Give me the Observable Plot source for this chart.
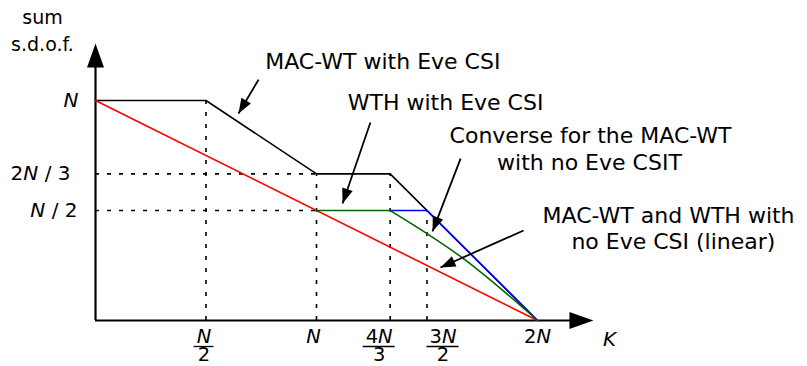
<!DOCTYPE html>
<html>
<head>
<meta charset="utf-8">
<script src="https://cdn.jsdelivr.net/npm/d3@7"></script>
<script src="https://cdn.jsdelivr.net/npm/@observablehq/plot@0.6"></script>
<style>
  html, body { margin: 0; padding: 0; background: #fff; }
  #chart svg { display: block; }
</style>
</head>
<body>
<div id="chart"></div>
<script>
// ---- data: K and sum s.d.o.f., both in units of N ----
const macWtEveK = [0, 0.5, 1, 4/3, 2];          // MAC-WT with Eve CSI (black)
const macWtEveS = [1, 1, 2/3, 2/3, 0];
const linearK = [0, 2];                          // linear, no Eve CSI (red)
const linearS = [1, 0];
const wthEveK = [1, 4/3];                        // WTH with Eve CSI, flat part (green)
const wthEveS = [0.5, 0.5];
const wthCurveK = [4/3, 1.5, 5/3, 11/6, 2];      // WTH with Eve CSI, curved part (green)
const wthCurveS = [0.5, 0.395, 0.28, 0.145, 0];
const converseK = [4/3, 1.5, 2];                 // converse, no Eve CSIT (blue)
const converseS = [0.5, 0.5, 0];

const xTicks = [0.5, 1, 4/3, 1.5, 2];
const xTickNum = ["N", "N", "4N", "3N", "2N"];
const xTickDen = ["2", "", "3", "2", ""];
const yTicks = [1, 2/3, 0.5];
const yTickLabels = ["N", "2N / 3", "N / 2"];

const noteTexts = ["MAC-WT with Eve CSI", "WTH with Eve CSI", "Converse for the MAC-WT",
                   "with no Eve CSIT", "MAC-WT and WTH with", "no Eve CSI (linear)"];

// ---- layout ----
const W = 807, H = 366;
const X_RANGE = [95, 537], Y_RANGE = [320, 100];
const PX_K = (X_RANGE[1] - X_RANGE[0]) / 2;
const PX_S = (Y_RANGE[0] - Y_RANGE[1]) / 1;
const xLabelNudgePx = [-2, -3, -11, 16, 0];
const yLabelDxPx = [-17, -25, -18];
const notePos = [[1.30, 1.145], [1.584, 0.955], [2.240, 0.805], [2.235, 0.682], [2.593, 0.445], [2.615, 0.323]];
const arrowPos = [
  [0.738, 1.095, 0.647, 0.941],
  [1.244, 0.900, 1.118, 0.532],
  [1.652, 0.736, 1.525, 0.405],
  [1.937, 0.409, 1.561, 0.241]
];
const X_AXIS_END = 2.253, Y_AXIS_END = 1.259;

const toRows = (Ks, Ss) => Ks.map((K, i) => ({K, s: Ss[i]}));
const black = toRows(macWtEveK, macWtEveS);
const red = toRows(linearK, linearS);
const greenFlat = toRows(wthEveK, wthEveS);
const greenCurve = toRows(wthCurveK, wthCurveS);
const blue = toRows(converseK, converseS);

const vGuides = [
  {K: macWtEveK[1], top: macWtEveS[1]},
  {K: macWtEveK[2], top: macWtEveS[2]},
  {K: macWtEveK[3], top: macWtEveS[3]},
  {K: converseK[1], top: converseS[1]}
];
const hGuides = [
  {s: macWtEveS[2], right: macWtEveK[2]},
  {s: wthEveS[0], right: wthEveK[0]}
];

const xLabels = xTicks.map((K, i) => ({
  K, num: xTickNum[i], den: xTickDen[i], nudge: xLabelNudgePx[i],
  label: xTickDen[i] ? xTickNum[i] + "\n" + xTickDen[i] : xTickNum[i]
}));
const yLabels = yTicks.map((s, i) => ({s, label: yTickLabels[i], dx: yLabelDxPx[i]}));
const notes = noteTexts.map((t, i) => ({t, K: notePos[i][0], s: notePos[i][1]}));
const arrows = arrowPos.map(([K1, s1, K2, s2]) => ({K1, s1, K2, s2}));

const headAxis = {draw(ctx) { ctx.moveTo(0, 0); ctx.lineTo(-8.5, 24); ctx.lineTo(8.5, 24); ctx.closePath(); }};
const headNote = {draw(ctx) { ctx.moveTo(0, 0); ctx.lineTo(-5.5, 15); ctx.lineTo(5.5, 15); ctx.closePath(); }};
const rotOf = d => Math.atan2((d.K2 - d.K1) * PX_K, (d.s2 - d.s1) * PX_S) * 180 / Math.PI;

const lw = 1.6;
const FONT = "DejaVu Sans";

const chart = Plot.plot({
  width: W, height: H, margin: 0,
  x: {domain: [0, 2], range: X_RANGE, axis: null},
  y: {domain: [0, 1], range: Y_RANGE, axis: null},
  style: {fontFamily: FONT, background: "#fff", overflow: "visible", color: "#000"},
  marks: [
    // dotted guides
    Plot.ruleX(vGuides, {x: "K", y1: () => 0, y2: "top", stroke: "#000", strokeWidth: 1.6, strokeDasharray: "4,8"}),
    Plot.ruleY(hGuides, {y: "s", x1: () => 0, x2: "right", stroke: "#000", strokeWidth: 1.6, strokeDasharray: "4,8"}),
    // axes
    Plot.ruleY([0], {x1: 0, x2: X_AXIS_END - 10 / PX_K, stroke: "#000", strokeWidth: 2.2}),
    Plot.ruleX([0], {y1: 0, y2: Y_AXIS_END - 10 / PX_S, stroke: "#000", strokeWidth: 2.2}),
    Plot.dot([0], {x: () => X_AXIS_END, y: () => 0, symbol: headAxis, rotate: 90, fill: "#000", stroke: "none"}),
    Plot.dot([0], {x: () => 0, y: () => Y_AXIS_END, symbol: headAxis, rotate: 0, fill: "#000", stroke: "none"}),
    // series
    Plot.line(black, {x: "K", y: "s", stroke: "#000", strokeWidth: lw}),
    Plot.line(red, {x: "K", y: "s", stroke: "#ff0000", strokeWidth: lw}),
    Plot.line(blue, {x: "K", y: "s", stroke: "#0000ff", strokeWidth: lw}),
    Plot.line(greenFlat, {x: "K", y: "s", stroke: "#006400", strokeWidth: lw}),
    Plot.line(greenCurve, {x: "K", y: "s", stroke: "#006400", strokeWidth: lw, curve: "monotone-x"}),
    // annotation arrows
    Plot.link(arrows, {x1: "K1", y1: "s1", x2: "K2", y2: "s2", stroke: "#000", strokeWidth: 1.8}),
    Plot.dot(arrows, {x: "K2", y: "s2", symbol: headNote, rotate: rotOf, fill: "#000", stroke: "none"}),
    // annotation texts
    Plot.text(notes, {x: "K", y: "s", text: "t", textAnchor: "middle", lineAnchor: "bottom", fontSize: 22, fill: "#000"}),
    // axis titles
    Plot.text(["sum", "s.d.o.f."], {x: () => -0.24, y: (d, i) => [1.35, 1.227][i], text: d => d, textAnchor: "middle", lineAnchor: "bottom", fontSize: 19, fill: "#000"}),
    Plot.text(["K"], {x: () => 2.326, y: () => -0.114, text: d => d, textAnchor: "middle", lineAnchor: "bottom", fontSize: 20, fill: "#000"}),
    // y tick labels
    Plot.text(yLabels, {x: d => d.dx / PX_K, y: "s", text: "label", textAnchor: "end", lineAnchor: "middle", fontSize: 20, fill: "#000"}),
    // x tick labels (stacked fractions)
    Plot.text(xLabels, {x: d => d.K + d.nudge / PX_K, y: () => 0, text: "label", dy: 9, textAnchor: "middle", lineAnchor: "top", lineHeight: 0.95, fontSize: 19.5, fill: "#000"}),
    Plot.ruleY(xLabels.filter(d => d.den), {
      y: () => 0,
      x1: d => d.K + (d.nudge - (d.num.length > 1 ? 16 : 10)) / PX_K,
      x2: d => d.K + (d.nudge + (d.num.length > 1 ? 16 : 10)) / PX_K,
      dy: 26, stroke: "#000", strokeWidth: 1.3
    })
  ]
});

// italic math letters (N, K) inside the math labels
const mathSet = new Set([...xLabels.map(d => d.num + d.den), ...yTickLabels, "K"]);
function italicize(el) {
  for (const node of [...el.childNodes]) {
    if (node.nodeType === 3) {
      const frag = document.createDocumentFragment();
      for (const ch of node.nodeValue) {
        const ts = document.createElementNS("http://www.w3.org/2000/svg", "tspan");
        ts.textContent = ch;
        if (ch === "N" || ch === "K") ts.setAttribute("font-style", "italic");
        frag.appendChild(ts);
      }
      el.replaceChild(frag, node);
    } else {
      italicize(node);
    }
  }
}
chart.querySelectorAll("text").forEach(t => {
  if (mathSet.has(t.textContent)) italicize(t);
});

document.getElementById("chart").appendChild(chart);
</script>
</body>
</html>
